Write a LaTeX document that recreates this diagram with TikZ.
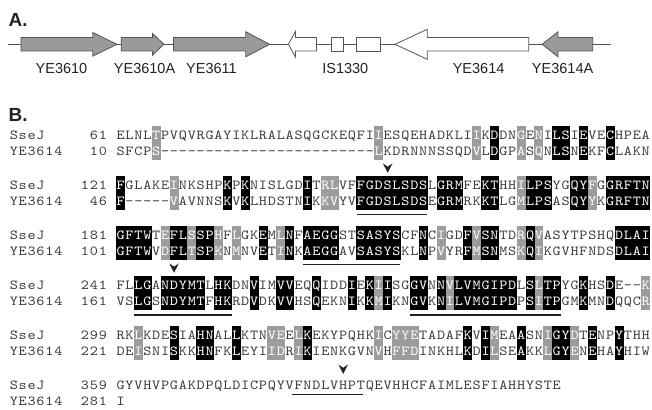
\documentclass[tikz,border=0pt]{standalone}
\usepackage{fontspec}
\newfontfamily\genefont{Liberation Sans}
\newfontfamily\seqface{lmmono10-regular.otf}[FakeStretch=1.12]
\definecolor{seqtext}{HTML}{3A3A3A}
\definecolor{shadegrey}{HTML}{9C9C9C}
\definecolor{genegrey}{HTML}{9A9A9A}
\definecolor{lineclr}{HTML}{555555}
\definecolor{labclr}{HTML}{222222}
\newcommand\seqfontcmd{\seqface\fontsize{13.8}{13.8}\selectfont}
\tikzset{
 seqchr/.style={font=\seqfontcmd, inner sep=0pt, anchor=base},
 panellab/.style={font=\genefont\bfseries\fontsize{19}{19}\selectfont, anchor=base west, inner sep=0pt, text=labclr},
 genelab/.style={font=\genefont\fontsize{14.5}{14.5}\selectfont, anchor=base, inner sep=0pt, text=labclr},
 geneline/.style={draw=lineclr, line width=1.4pt},
 genefill/.style={draw=lineclr, line width=0.8pt, fill=genegrey},
 geneopen/.style={draw=lineclr, line width=0.8pt, fill=white},
 motifline/.style={draw=labclr, line width=1.3pt},
 chevron/.style={fill=labclr},
 blackbox/.style={fill=black},
 greybox/.style={fill=shadegrey},
}
\makeatletter
\newcount\colidx
\def\seqxs{116.2}
\def\seqcw{8.9}
\def\shadelist{}
\newcommand\seqrow[4]{\global\colidx=#3\relax\def\rowname{#1}\def\rowy{#2}\seqloop#4\relax}
\def\seqloop#1{\ifx\relax#1\else\seqput{#1}\expandafter\seqloop\fi}
\def\seqput#1{%
  \edef\seqtest{\noexpand\in@{,\the\colidx,}{\shadelist}}\seqtest
  \ifin@\def\chcol{white}\else\def\chcol{seqtext}\fi
  \edef\nodenm{\rowname c\the\colidx}%
  \node[seqchr,text=\chcol] (\nodenm) at ({\seqxs+(\the\colidx+0.5)*\seqcw},\rowy) {#1};
  \global\advance\colidx by 1\relax}
\makeatother
\newcommand\alblock[6]{%
  \pgfmathsetmacro\btop{#1-12.8}%
  \pgfmathsetmacro\bbot{#1+16.6+4.2}%
  \foreach \c in {#3}{\fill[greybox] ({\seqxs+\c*\seqcw-0.06},\btop) rectangle ({\seqxs+(\c+1)*\seqcw+0.06},\bbot);}%
  \foreach \c in {#2}{\fill[blackbox] ({\seqxs+\c*\seqcw-0.06},\btop) rectangle ({\seqxs+(\c+1)*\seqcw+0.06},\bbot);}%
  \def\shadelist{,#2,#3,}%
  \seqrow{s#6}{#1}{0}{#4}%
  \pgfmathsetmacro\ybase{#1+16.6}%
  \seqrow{y#6}{\ybase}{0}{#5}%
}
\newcommand\chev[2]{\fill[chevron] ({#1-4.8},#2) -- (#1,{#2+3.3}) -- ({#1+4.8},#2) -- (#1,{#2+9.4}) -- cycle;}
\begin{document}
\begin{tikzpicture}[x=1pt,y=-1pt]
\useasboundingbox (0,0) rectangle (652,409);
% panel labels
\node[panellab] (labA) at (8.4,27) {A.};
\node[panellab] (labB) at (8.4,121.5) {B.};
% gene map
\coordinate (L0) at (8.4,44.3);
\coordinate (L1) at (611,44.3);
\draw[geneline] (L0) -- (L1);
\draw[genefill] (20.9,37.6) -- (92.8,37.6) -- (92.8,32.5) -- (117,44.3) -- (92.8,56.1) -- (92.8,51) -- (20.9,51) -- cycle;
\draw[genefill] (121.2,37.6) -- (152.6,37.6) -- (152.6,33.5) -- (163.9,44.3) -- (152.6,55.1) -- (152.6,51) -- (121.2,51) -- cycle;
\draw[genefill] (173.5,37.6) -- (245.8,37.6) -- (245.8,31.8) -- (269.6,44.3) -- (245.8,56.8) -- (245.8,51) -- (173.5,51) -- cycle;
\draw[geneopen] (316.4,37.6) -- (295.5,37.6) -- (295.5,31.5) -- (288.4,44.3) -- (295.5,57.1) -- (295.5,51) -- (316.4,51) -- cycle;
\draw[geneopen] (331,37.6) rectangle (343.6,51);
\draw[geneopen] (356.6,37.6) rectangle (380.8,51);
\draw[geneopen] (528.8,37.6) -- (427.2,37.6) -- (427.2,29.3) -- (395,44.3) -- (427.2,59.3) -- (427.2,51) -- (528.8,51) -- cycle;
\draw[genefill] (592.7,37.6) -- (558,37.6) -- (558,31.8) -- (542.1,44.3) -- (558,56.8) -- (558,51) -- (592.7,51) -- cycle;
\node[genelab] (g1) at (61.5,73.5) {YE3610};
\node[genelab] (g2) at (144.6,73.5) {YE3610A};
\node[genelab] (g3) at (211.5,73.5) {YE3611};
\node[genelab] (g4) at (345.3,73.5) {IS1330};
\node[genelab] (g5) at (478.6,73.5) {YE3614};
\node[genelab] (g6) at (562.6,73.5) {YE3614A};
% alignment blocks
\alblock{139.2}{42,49,50,52,55}{4,29,40,45,47}{ELNLTPVQVRGAYIKLRALASQGCKEQFIIESQEHADKLIIKDDNGENILSIEVECHPEA}{SFCPS------------------------LKDRNNNSSQDVLDGPASQNLSNEKFCLAKN}{1}
\alblock{189.2}{0,12,14,21,27,28,29,30,31,32,33,34,36,37,38,41,42,46,47,48,51,52,55,56,57,58,59}{6,23,24,45,53}{FGLAKEINKSHPKPKNISLGDITRLVFFGDSLSDSLGRMFEKTHHILPSYGQYFGGRFTN}{F-----VAVNNSKVKLHDSTNIKKVYVFGDSLSDSEGRMRKKTLGMLPSASQYYKGRFTN}{2}
\alblock{239.2}{0,1,2,3,6,7,9,10,16,19,21,22,23,24,27,28,29,30,31,34,39,41,42,46,56,57,58,59}{5,8,11,13,18,36,40,45,47}{GFTWTEFLSSPHFLGKEMLNFAEGGSTSASYSCFNCIGDFVSNTDRQVASYTPSHQDLAI}{GFTWVDFLTSPKNMNVETINKAEGGAVSASYSKLNPVYRFMSNMSKQIKGVHFNDSDLAI}{3}
\alblock{289.2}{2,3,5,6,7,8,9,11,12,15,18,19,22,26,28,30,33,34,36,38,39,40,41,42,43,44,46,48,49,52,55}{29,37,47,59}{FLLGANDYMTLHKDNVIMVVEQQIDDIEKIISGGVNNVLVMGIPDLSLTPYGKHSDE--K}{VSLGSNDYMTFHKRDVDKVVHSQEKNIKKMIKNGVKNILVMGIPDPSITPGMKMNDQQCR}{4}
\alblock{339.2}{6,9,10,13,21,39,41,45,49,50,53,56}{2,17,18,20,29,31,32,33,42,48,51}{RKLKDESIAHNALLKTNVEELKEKYPQHKICYYETADAFKVIMEAASNIGYDTENPYTHH}{DEISNISKKHNFKLEYIIDRIKIENKGVNVHFFDINKHLKDILSEAKKLGYENEHAYHIW}{5}
\def\shadelist{}
\seqrow{s6}{389.2}{0}{GYVHVPGAKDPQLDICPQYVFNDLVHPTQEVHHCFAIMLESFIAHHYSTE}
\seqrow{y6}{405.8}{0}{I}
% row labels and numbers
\seqrow{las1}{139.2}{-12}{SseJ}\seqrow{nus1}{139.2}{-3}{61}
\seqrow{lay1}{155.8}{-12}{YE3614}\seqrow{nuy1}{155.8}{-3}{10}
\seqrow{las2}{189.2}{-12}{SseJ}\seqrow{nus2}{189.2}{-4}{121}
\seqrow{lay2}{205.8}{-12}{YE3614}\seqrow{nuy2}{205.8}{-3}{46}
\seqrow{las3}{239.2}{-12}{SseJ}\seqrow{nus3}{239.2}{-4}{181}
\seqrow{lay3}{255.8}{-12}{YE3614}\seqrow{nuy3}{255.8}{-4}{101}
\seqrow{las4}{289.2}{-12}{SseJ}\seqrow{nus4}{289.2}{-4}{241}
\seqrow{lay4}{305.8}{-12}{YE3614}\seqrow{nuy4}{305.8}{-4}{161}
\seqrow{las5}{339.2}{-12}{SseJ}\seqrow{nus5}{339.2}{-4}{299}
\seqrow{lay5}{355.8}{-12}{YE3614}\seqrow{nuy5}{355.8}{-4}{221}
\seqrow{las6}{389.2}{-12}{SseJ}\seqrow{nus6}{389.2}{-4}{359}
\seqrow{lay6}{405.8}{-12}{YE3614}\seqrow{nuy6}{405.8}{-4}{281}
% motif underlines
\draw[motifline] (356.5,214.5) -- (427.4,214.5);
\draw[motifline] (303.1,264.3) -- (400.4,264.3);
\draw[motifline] (134.0,315) -- (232.2,315);
\draw[motifline] (409.9,315) -- (560.6,315);
\draw[motifline] (291.5,394.7) -- (362.5,394.7);
% catalytic residue markers
\chev{387.7}{163.4}
\chev{174.05}{263.4}
\chev{343.2}{364.5}
\end{tikzpicture}
\end{document}
